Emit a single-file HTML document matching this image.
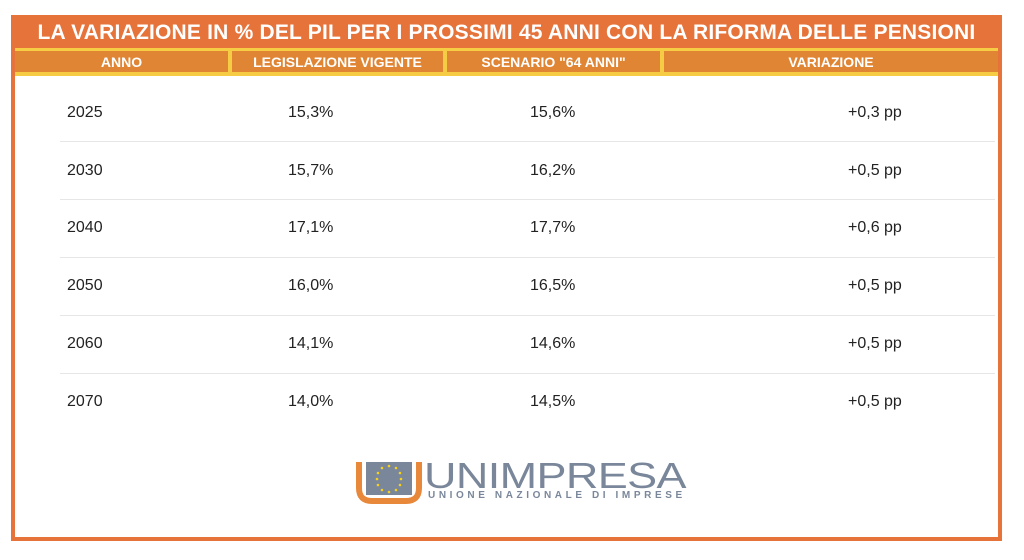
<!DOCTYPE html>
<html><head><meta charset="utf-8"><style>
body{margin:0;width:1024px;height:560px;background:#fff;position:relative;overflow:hidden;font-family:"Liberation Sans",sans-serif}
.frame{position:absolute;left:11px;top:15px;width:983px;height:522px;border:4px solid #e5733a;border-top:none;background:#fff}
.title{position:absolute;left:11px;top:15px;width:991px;height:33px;background:#e5733a;color:#fff;font-weight:bold;font-size:21px;line-height:35px;text-align:center;letter-spacing:0.2px}
.hdr{position:absolute;left:15px;top:48px;width:983px;height:28px;background:#f6cc45}
.hc{position:absolute;top:3px;height:21px;background:#e08533;color:#fff;font-weight:bold;font-size:14px;line-height:22px;text-align:center}
.t{position:absolute;font-size:16px;color:#222}
.sep{position:absolute;left:60px;width:935px;height:1px;background:#e6e6e6}
</style></head><body>
<div class="frame"></div>
<div class="title">LA VARIAZIONE IN % DEL PIL PER I PROSSIMI 45 ANNI CON LA RIFORMA DELLE PENSIONI</div>
<div class="hdr">
<div class="hc" style="left:0;width:213px">ANNO</div>
<div class="hc" style="left:217px;width:211px">LEGISLAZIONE VIGENTE</div>
<div class="hc" style="left:432px;width:213px">SCENARIO "64 ANNI"</div>
<div class="hc" style="left:649px;width:334px">VARIAZIONE</div>
</div>
<div class="sep" style="top:141px"></div><div class="sep" style="top:199px"></div><div class="sep" style="top:257px"></div><div class="sep" style="top:315px"></div><div class="sep" style="top:373px"></div>
<div class="t" style="left:67px;top:104px">2025</div><div class="t" style="left:288px;top:104px">15,3%</div><div class="t" style="left:530px;top:104px">15,6%</div><div class="t" style="left:848px;top:104px">+0,3 pp</div>
<div class="t" style="left:67px;top:162px">2030</div><div class="t" style="left:288px;top:162px">15,7%</div><div class="t" style="left:530px;top:162px">16,2%</div><div class="t" style="left:848px;top:162px">+0,5 pp</div>
<div class="t" style="left:67px;top:219px">2040</div><div class="t" style="left:288px;top:219px">17,1%</div><div class="t" style="left:530px;top:219px">17,7%</div><div class="t" style="left:848px;top:219px">+0,6 pp</div>
<div class="t" style="left:67px;top:277px">2050</div><div class="t" style="left:288px;top:277px">16,0%</div><div class="t" style="left:530px;top:277px">16,5%</div><div class="t" style="left:848px;top:277px">+0,5 pp</div>
<div class="t" style="left:67px;top:335px">2060</div><div class="t" style="left:288px;top:335px">14,1%</div><div class="t" style="left:530px;top:335px">14,6%</div><div class="t" style="left:848px;top:335px">+0,5 pp</div>
<div class="t" style="left:67px;top:393px">2070</div><div class="t" style="left:288px;top:393px">14,0%</div><div class="t" style="left:530px;top:393px">14,5%</div><div class="t" style="left:848px;top:393px">+0,5 pp</div>
<svg style="position:absolute;left:356px;top:460px" width="70" height="44">
<path d="M3 2 V28 Q3 41 16 41 H50 Q63 41 63 28 V2" fill="none" stroke="#e8883a" stroke-width="6"/>
<rect x="10" y="2" width="46" height="33" fill="#7a879a"/>
<g fill="#f5d020">
<circle cx="33" cy="6" r="1.3"/><circle cx="40" cy="8" r="1.3"/><circle cx="44" cy="13" r="1.3"/><circle cx="45" cy="19" r="1.3"/><circle cx="44" cy="25" r="1.3"/><circle cx="40" cy="30" r="1.3"/><circle cx="33" cy="32" r="1.3"/><circle cx="26" cy="30" r="1.3"/><circle cx="22" cy="25" r="1.3"/><circle cx="21" cy="19" r="1.3"/><circle cx="22" cy="13" r="1.3"/><circle cx="26" cy="8" r="1.3"/></g>
</svg>
<div style="position:absolute;left:424px;top:455px;font-size:36px;color:#7a879a;letter-spacing:-0.5px;transform:scaleX(1.25);transform-origin:left">UNIMPRESA</div>
<div style="position:absolute;left:428px;top:490px;font-size:10px;font-weight:bold;color:#7a879a;letter-spacing:3.6px">UNIONE NAZIONALE DI IMPRESE</div>
</body></html>
